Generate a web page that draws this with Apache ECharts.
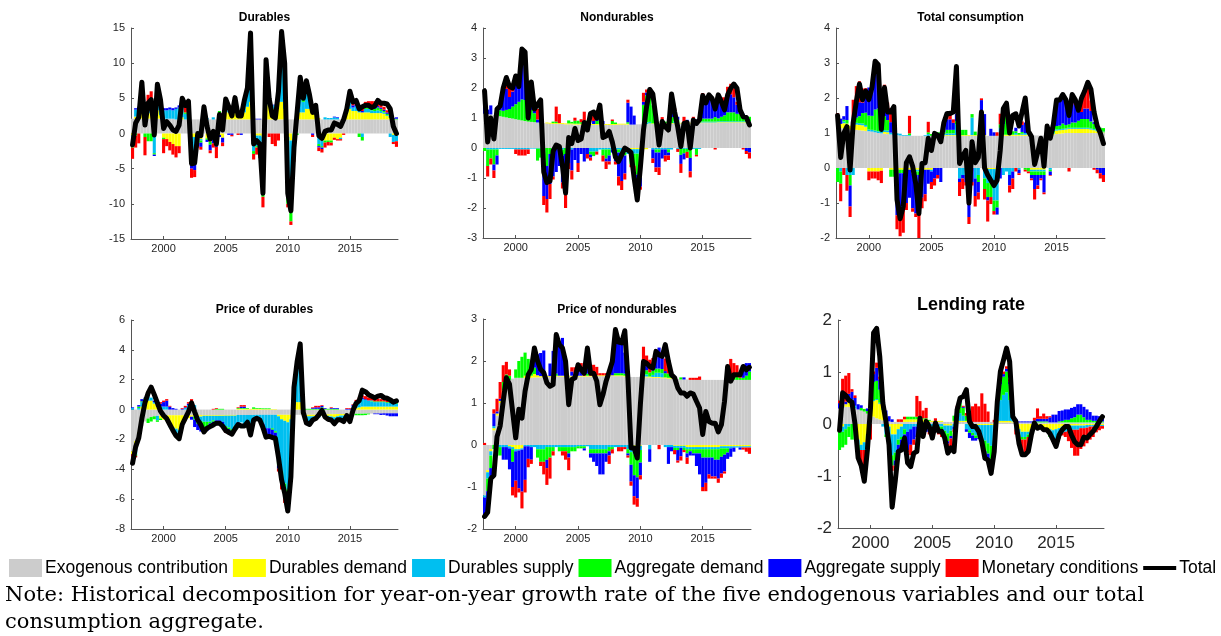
<!DOCTYPE html>
<html><head><meta charset="utf-8">
<script src="https://cdn.jsdelivr.net/npm/echarts@6/dist/echarts.min.js"></script>
<style>html,body{margin:0;padding:0;background:#fff}#c{width:1221px;height:636px}</style>
</head><body><div id="c"></div>
<script>
// ---------- categories / ticks ----------
const quarters = [];
for (let y = 1997; y <= 2018; y++) for (let q = 1; q <= 4; q++) { if (y === 1997 && q < 3) continue; quarters.push(y + 'Q' + q); }
const tickCats = ['2000Q1','2005Q1','2010Q1','2015Q1'];
const tickLabels = ['2000','2005','2010','2015'];
const seriesNames = ['Exogenous contribution','Durables demand','Durables supply','Aggregate demand','Aggregate supply','Monetary conditions'];
const totalName = 'Total';

// ---------- Durables ----------
const dur_exo = [2.1,2.1,2.1,2.1,2.1,2.1,2.1,2.1,2.1,2.1, 2.1,2.1,2.1,2.1,2.0,2.0,2.0,2.0,2.0,2.0, 2.0,2.0,2.0,2.0,2.0,2.0,2.0,2.0,2.0,2.0, 2.0,2.0,2.0,2.0,2.0,2.0,2.0,2.0,2.0,2.0, 2.0,2.0,2.0,2.0,2.0,2.0,2.0,2.0,2.0,2.0, 2.0,2.0,2.0,2.0,2.0,2.0,2.0,2.0,2.0,2.0, 2.0,2.0,2.0,2.0,2.0,2.0,2.0,2.0,2.0,2.0, 2.0,2.0,2.0,2.0,2.0,2.0,2.0,2.0,2.0,2.0, 2.0,2.0,2.0,2.0,2.0,2.0];
const dur_dd = [-0.3,0.3,0.5,1.0,0.8,0.8,0.8,0.5,1.2,0.5, -0.6,-0.8,-1.2,-1.5,-1.8,-1.8,0.3,0,0.4,-0.5, -0.5,-0.5,-0.8,0.4,-0.7,-1.2,-0.8,-0.8,-0.2,-0.6, 1.5,1.0,0.6,1.0,0.5,0.6,1.0,1.8,2.5,0.2, -0.3,-0.3,-0.5,2.5,2.0,1.5,1.5,2.5,2.5,1.5, -0.5,-1.0,0,0.3,1.0,1.0,1.5,1.5,1.2,1.5, 0.2,-1.0,-1.0,-1.0,-1.0,-0.6,-0.8,-0.6,0.2,1.0, 1.5,1.2,1.2,1.0,1.0,1.0,1.0,0.9,0.9,0.9, 0.9,0.8,0.5,0.2,-0.2,-0.3];
const dur_ds = [-1.5,1.0,0.8,2.5,1.2,0.8,0.6,-2.8,2.0,1.3, 1.2,1.2,1.3,1.2,1.5,1.7,1.5,0.8,1.0,-3.5, -3.7,-0.8,-0.2,0.4,0.2,0,0.3,-0.5,0.3,0.3, 1.2,0.8,0.3,2.0,0.2,0.1,1.5,2.5,9.0,-2.5, -1.5,-2.0,-7.5,5.5,1.5,0.5,0.5,2.5,8.0,6.0, -8.0,-9.5,-2.5,0.5,3.0,1.5,2.5,1.5,0.3,0.5, -1.5,-0.8,0.3,0.2,0.2,0.3,0.2,-0.2,0,0.3, 1.3,0.5,0.7,0.4,-0.5,0.5,0.5,0.4,0.3,0.4, 0.3,0.2,0.1,-0.5,-1.0,-0.8];
const dur_ad = [-0.2,-0.3,0.2,0.3,-0.5,-1.1,-1.1,-0.2,0.5,0.3, -0.2,0,0,0,0,0,0,0.2,0,-0.5, -0.2,-0.1,-0.3,0,-0.2,-0.4,0,0,0.9,0, 0.2,0,0,0.1,0,0,0,0.2,0.6,-0.4, -0.2,0,-1.0,0.5,0,0,0,0,1.5,0.5, -1.5,-2.0,-0.5,-0.2,1.5,0.5,1.5,0.5,0,0, -0.3,-0.2,-0.3,-0.2,-0.3,0,0,0,0,0, 0.3,0,0,-0.5,-0.5,0.2,0.2,0.3,0.3,0.4, 0.3,0.2,0.2,0.2,0.1,0.1];
const dur_as = [0,0.2,0.2,0.5,0.3,0.3,0.3,-0.2,0.8,0.5, 0.3,0.3,0.3,0.3,0.2,0.3,0.2,0,0,-0.5, -0.8,-0.4,-0.6,0,-0.3,-0.8,-0.6,-0.6,-0.3,-0.7, 0,-0.2,-0.2,0.1,0.1,-0.2,0.1,0.1,0.2,0, 0.1,0.1,0,0,0.1,0.1,0.1,0.1,0.5,0, 0,0,0,0,0.5,0,0,0,-0.2,0, -0.2,-0.2,0,0,0,0.1,0.1,0,0,0.2, 0.4,0.3,0.3,0.2,0.2,0.2,0.2,0.2,0.2,0.2, 0.2,0.2,0.2,0.1,0.1,0.2];
const dur_mc = [-1.6,-1.7,-1.4,1.0,-2.6,1.5,2.2,0.5,0.5,0.2, -2.0,-1.0,-1.2,-1.5,-1.6,-1.0,1.0,1.0,1.2,-1.3, -1.0,-0.2,-0.4,1.0,0,-0.4,-0.6,-1.6,0,-0.5, 0,0.2,-0.2,0,-0.2,0,0.2,0,0,-0.8, -1.0,-1.2,-1.5,0,-0.5,-1.5,-1.8,-1.0,0,0, -0.5,-0.5,-1.0,0.4,0,0,0,0,-0.3,0, -0.5,-0.5,-0.7,-0.5,-0.4,-0.3,-0.2,-0.2,-0.2,0, 0.5,0.5,0.5,0.4,0.5,0.6,0.7,0.8,0.9,0.8, 0.6,0.4,0.3,0,-0.3,-0.8];
const dur_tot = [-1.6,1.5,2.3,7.3,1.2,4.3,4.8,-0.2,7.0,4.8, 0.7,1.7,1.2,0.5,0.3,1.2,5.0,4.0,4.6,-4.3, -4.2,0.0,-0.3,3.8,1.0,-0.8,0.3,-1.5,2.7,0.5, 4.9,3.8,2.5,5.1,2.5,2.5,4.7,6.5,14.3,-1.5, -1.0,-1.5,-8.5,10.5,5.0,2.5,2.2,6.0,14.5,10.0, -8.5,-11.0,-2.0,3.0,8.0,5.0,7.5,5.5,3.0,4.0, -0.3,-0.7,0.3,0.5,0.5,1.5,1.3,1.0,2.0,3.5, 6.0,4.5,4.7,3.5,3.8,4.0,4.0,3.7,3.9,4.7, 4.3,4.3,4.2,3.5,1.0,0.0];

// ---------- Nondurables ----------
const nd_exo = [1.15,1.13,1.12,1.1,1.08,1.06,1.04,1.02,1.0,0.98, 0.96,0.94,0.92,0.9,0.88,0.87,0.86,0.85,0.84,0.83, 0.82,0.81,0.8,0.8,0.8,0.8,0.79,0.79,0.79,0.78, 0.78,0.78,0.78,0.78,0.77,0.77,0.77,0.77,0.77,0.77, 0.77,0.77,0.77,0.78,0.78,0.78,0.78,0.78,0.78,0.79, 0.79,0.79,0.8,0.8,0.8,0.8,0.8,0.81,0.81,0.81, 0.81,0.81,0.82,0.82,0.82,0.82,0.82,0.82,0.83,0.83, 0.83,0.83,0.83,0.83,0.83,0.84,0.84,0.84,0.84,0.84, 0.84,0.84,0.84,0.84,0.84,0.84];
const nd_dd = [0,0,0,0,0,0,0,0,0,0, 0,0,0,0,0,0,0,0,0,0, 0.03,0.03,0.03,0.03,0.03,0.03,0.03,0.03,0.03,0.03, 0.03,0.03,0.03,0.03,0.03,0.03,0.03,0.03,0.03,0.03, 0.03,0.03,0.03,0.03,0.03,0.03,0.03,-0.04,-0.04,-0.04, -0.04,-0.04,-0.04,0.02,0.02,0.02,0.02,0.02,0.02,0.02, 0.02,0.02,0.02,0.02,0.02,0.02,0.02,0.02,0.02,0.02, 0.02,0.02,0.02,0.02,0.02,0.02,0.02,0.02,0.02,0.02, 0.02,0.02,0.02,0.02,0.02,0.02];
const nd_ds = [0,-0.05,-0.05,-0.05,-0.05,-0.03,-0.03,-0.03,-0.03,-0.03, -0.05,-0.05,-0.05,-0.05,-0.05,-0.02,-0.02,-0.02,-0.02,0, 0,0,-0.05,0,0,-0.05,0,0,-0.05,0, 0,0,0,0,-0.12,-0.12,-0.12,-0.05,-0.05,-0.05, -0.05,-0.05,-0.05,-0.05,-0.15,-0.15,-0.2,-0.2,-0.15,-0.15, -0.15,0.05,0.05,0.05,-0.05,-0.05,-0.05,-0.05,-0.05,-0.05, -0.05,0.05,-0.03,-0.03,-0.03,-0.03,-0.03,-0.03,-0.03,-0.03, 0.03,0.03,0.03,0.03,0.03,0.03,0.03,0.03,0.03,0.03, 0.03,0.03,0.03,0.03,0.03,0.03];
const nd_ad = [-0.1,-0.55,-0.3,-0.5,-0.2,0.2,0.2,0.25,0.3,0.4, 0.5,0.6,0.7,0.7,0.5,0.4,0.3,-0.4,-0.3,-0.7, -0.6,-0.2,0.05,0.05,0,-0.2,-0.2,0.1,0.05,0.1, 0.1,0.05,0.1,0.1,-0.1,-0.15,0.1,0.15,-0.2,-0.3, -0.2,0.1,0.05,-0.1,-0.15,-0.1,0.05,-0.3,-0.4,-0.7, -0.8,0.6,0.9,1.0,0.6,-0.1,-0.1,0.1,0.05,-0.1, 0.2,0.15,0.1,-0.2,-0.15,-0.1,-0.3,0.05,-0.2,0.05, 0.1,0.1,0.1,0.1,0.15,0.1,0.15,0.2,0.3,0.3, 0.3,0.25,0.25,0.2,0.15,0.15];
const nd_as = [0.3,0.15,0.3,-0.2,-0.3,0.1,0.6,0.7,0.4,0.5, 0.7,0.6,1.6,1.5,0,0.6,0.2,0.1,0.2,-0.9, -1.1,-1.0,-0.9,-0.8,-0.6,-0.9,-1.3,-0.5,-0.7,-0.4, -0.5,-0.2,-0.45,-0.2,-0.1,0.1,0.2,0.2,0.1,-0.1, -0.2,-0.1,-0.4,-0.8,-0.8,-0.6,0.65,0.6,0.3,-0.6, -0.3,0.1,0.1,0,-0.3,-0.5,-0.5,-0.3,-0.2,-0.1, 0.3,0.2,0.1,-0.3,-0.2,0.1,-0.45,0.1,0.1,0.2, 0.8,0.6,0.7,0.6,0.45,0.7,0.55,0.4,0.5,0.6, 0.5,0.3,0.1,0.05,-0.1,-0.15];
const nd_mc = [0.45,-0.35,-0.2,-0.25,0.2,0.15,0.2,0.3,0.45,0.2, -0.15,-0.2,-0.2,-0.2,-0.15,0.2,0.15,0.35,0.5,-0.3, -0.45,-0.5,-0.1,0.5,0.3,-0.2,-0.5,-0.2,-0.3,0.1, -0.3,0.1,0.3,-0.15,-0.1,0.2,-0.1,0.1,-0.2,-0.25, -0.1,0.05,-0.1,-0.3,-0.3,-0.2,0.1,-0.1,-0.2,-0.2, -0.1,0.3,0.1,0.05,-0.15,-0.15,-0.25,0.1,-0.2,-0.15, 0.2,0.1,-0.1,-0.3,0.2,-0.2,-0.2,0.05,-0.05,0.05, 0.05,0.1,0.05,0.1,-0.05,0.1,0.1,0.2,0.35,0.35, 0.3,0.1,0.05,-0.05,-0.1,-0.2];
const nd_tot = [1.9,0.2,1.0,0.3,1.3,1.4,2.0,2.35,2.05,2.0, 2.4,2.05,3.3,3.2,1.0,2.2,1.3,1.45,1.6,-0.8, -1.15,-1.1,-0.1,0.1,0.05,-0.6,-1.5,0.35,0.15,0.65, 0.25,0.3,0.85,0.6,1.15,1.2,1.0,1.43,0.35,0.4, 0.55,0.2,-0.3,-0.45,-0.23,0.0,-0.07,-0.15,-1.0,-1.73, -0.65,0.6,1.38,1.95,1.8,1.0,0.1,0.88,0.71,0.6, 1.8,1.2,0.7,0.05,0.82,0.85,0.0,0.93,0.82,0.95, 1.75,1.5,1.77,1.65,1.3,1.77,1.54,1.27,1.77,1.99, 2.13,1.99,1.27,1.04,1.02,0.77];

// ---------- Total consumption ----------
const tc_exo = [1.15,1.14,1.13,1.12,1.11,1.1,1.09,1.08,1.07,1.06, 1.05,1.04,1.02,1.0,0.99,0.98,0.97,0.96,0.95,0.94, 0.93,0.92,0.92,0.92,0.92,0.92,0.92,0.92,0.92,0.92, 0.92,0.92,0.92,0.92,0.92,0.92,0.92,0.92,0.92,0.92, 0.92,0.92,0.92,0.92,0.92,0.92,0.92,0.92,0.92,0.92, 0.92,0.92,0.92,0.92,0.92,0.92,0.92,0.92,0.92,0.92, 0.92,0.93,0.93,0.93,0.93,0.93,0.93,0.93,0.93,0.95, 0.97,0.98,0.99,1.0,1.0,1.0,1.0,1.0,1.0,1.0, 1.0,1.0,1.0,1.0,1.0,1.0];
const tc_dd = [0.12,0.12,0.15,0.15,0.1,0.15,0.15,0.15,0.15,0.12, -0.1,-0.1,-0.1,-0.1,-0.08,0.05,0.05,-0.05,-0.05,-0.05, -0.05,-0.05,-0.05,-0.05,-0.05,-0.05,-0.05,-0.05,-0.05,-0.05, -0.05,0.02,0.02,0.02,0.02,0.02,0.02,0.02,0.02,0.02, 0.02,0.02,0.02,0.02,0.02,0.02,0.02,0.02,-0.03,-0.03, -0.03,-0.03,0.03,0.03,0.03,0.03,0.03,0.03,0.03,0.03, 0.03,0.03,-0.05,-0.05,-0.05,-0.05,-0.05,0.03,0.03,0.03, 0.1,0.1,0.1,0.1,0.12,0.12,0.12,0.12,0.12,0.12, 0.12,0.1,0.08,0.05,0.03,0.02];
const tc_ds = [0.05,-0.1,0.05,-0.2,-0.2,-0.2,0.05,0.05,0.05,0.05, 0.05,0.05,0.05,0.05,0.05,0.05,0.05,0.05,0.05,0.05, 0.05,0.02,0.02,0.02,-0.05,-0.05,-0.05,-0.05,0.02,0.05, -0.05,0.05,0.03,0.03,0.03,0.05,0.05,0.05,0.3,-0.3, -0.2,-0.2,-0.5,0.5,-0.3,-0.2,0.3,-0.3,-0.4,-0.3, -0.9,-0.9,0.2,-0.2,-0.1,-0.2,-0.1,0.05,-0.05,0.03, 0.05,0.05,-0.05,-0.05,-0.05,-0.05,-0.05,0.03,-0.05,0.03, 0.03,0.03,0.03,0.03,0.03,0.03,0.03,0.03,0.03,0.03, 0.03,0.03,0.03,0.03,0.02,0.02];
const tc_ad = [-0.4,-0.35,0.05,0.1,-0.3,0.1,0.15,0.2,0.3,0.35, 0.4,0.4,0.6,0.65,0.45,0.4,0.3,-0.2,-0.2,-0.2, -0.1,-0.1,-0.05,0.05,-0.05,-0.1,-0.1,-0.05,0,0.05, 0.05,0.05,0.05,0.05,0.05,0.1,0.1,0.1,0.1,0.15, 0.15,0.15,-0.1,0.1,0.1,-0.2,0.1,-0.3,-0.4,-0.5, -0.3,-0.2,0.1,0.3,0.7,0.3,0.1,0.05,0.05,0.05, -0.05,-0.1,-0.1,-0.1,-0.1,-0.1,-0.1,0.05,-0.05,0.05, 0.1,0.1,0.15,0.1,0.1,0.15,0.15,0.2,0.25,0.25, 0.25,0.2,0.15,0.1,0.1,0.1];
const tc_as = [0.15,0.15,0.1,0.4,-0.6,0.1,0.3,0.4,0.3,0.5, 0.8,0.9,1.4,1.3,0.05,0.8,0.3,0.3,0.4,-1.1, -1.2,-1.0,-0.9,-0.8,-1.0,-1.1,-1.0,-0.7,-0.7,-0.4, -0.3,-0.3,-0.2,-0.4,0.2,0.3,0.3,0.2,0.2,-0.1, -0.1,-0.2,-0.8,-0.4,-0.5,-0.3,0.6,0.6,-0.1,0.2, 0.1,-0.2,-0.3,0.1,0.1,-0.3,-0.2,0.1,-0.1,0.2, 0.3,0.3,-0.1,-0.4,-0.3,-0.1,-0.5,0.1,-0.1,0.1, 0.7,0.7,0.7,0.6,0.4,0.6,0.5,0.3,0.2,0.3, 0.3,0.3,0.05,-0.05,-0.15,-0.2];
const tc_mc = [0.1,-0.5,-0.2,-0.45,-0.3,0.5,0.6,0.6,0.4,0.2, -0.25,-0.2,-0.2,-0.25,-0.35,0.1,0.2,0.4,0.3,-0.4, -0.6,-0.7,-0.2,0.5,-0.1,-0.1,-1.0,-0.3,-0.2,0.3, -0.2,-0.2,-0.1,0,0.1,0.1,0.2,0.1,0,-0.4, -0.3,-0.1,-0.2,-0.1,-0.3,-0.2,0.05,-0.3,-0.6,-0.2, -0.1,0.1,0.3,0.3,0.1,-0.2,-0.3,-0.1,-0.05,0.1, -0.05,-0.05,-0.05,-0.3,-0.1,-0.05,-0.05,0.1,-0.02,0.02, 0.05,0.05,0.15,0.05,-0.1,0.1,0.1,0.15,0.4,0.5, 0.6,0.3,-0.05,-0.1,-0.15,-0.2];
const tc_tot = [1.5,0.3,1.0,1.18,-0.06,1.3,1.9,2.4,1.95,2.2, 1.95,2.3,3.05,2.95,1.1,2.3,1.6,1.6,1.75,-0.9, -1.45,-1.1,0.15,0.32,0.05,-0.45,-1.3,0.13,0.15,0.85, 0.5,0.99,0.94,0.75,1.3,1.56,1.56,1.6,2.9,0.13, 0.35,0.5,-1.0,0.75,0.15,0.3,1.6,0.0,-0.2,-0.35, -0.5,-0.35,0.5,1.7,1.85,1.0,1.5,1.55,1.2,1.6, 2.0,1.05,0.9,0.1,0.45,0.85,0.05,1.2,0.85,1.25, 1.94,1.94,2.1,1.95,1.5,2.1,1.95,1.65,2.0,2.2, 2.45,2.25,1.6,1.2,1.0,0.7];

// ---------- Price of durables ----------
const pd_exo = [-2.8,-2.1,-1.5,-1.1,-0.8,-0.6,-0.5,-0.45,-0.42,-0.4, -0.38,-0.38,-0.38,-0.38,-0.38,-0.38,-0.38,-0.38,-0.38,-0.38, -0.37,-0.37,-0.37,-0.37,-0.37,-0.37,-0.37,-0.37,-0.37,-0.37, -0.36,-0.36,-0.36,-0.36,-0.36,-0.36,-0.36,-0.36,-0.36,-0.36, -0.35,-0.35,-0.35,-0.35,-0.35,-0.35,-0.35,-0.35,-0.35,-0.35, -0.35,-0.35,-0.35,-0.35,-0.35,-0.35,-0.35,-0.35,-0.35,-0.35, -0.33,-0.33,-0.32,-0.32,-0.31,-0.31,-0.3,-0.3,-0.3,-0.3, -0.29,-0.29,-0.28,-0.28,-0.28,-0.27,-0.27,-0.27,-0.26,-0.26, -0.26,-0.25,-0.25,-0.25,-0.25,-0.25];
const pd_dd = [-0.2,-0.4,-0.3,0.2,0.5,0.6,0.6,0.4,0.2,-0.2, -0.3,-0.4,-0.6,-0.8,-0.9,-1.0,-0.6,-0.4,-0.2,-0.1, -0.1,-0.1,-0.1,-0.05,-0.05,-0.05,-0.05,-0.05,-0.05,-0.05, -0.05,-0.05,-0.05,-0.05,0.05,0.05,0.05,0.05,0.05,0.05, 0.05,0.05,0.03,0.03,0.03,0.03,0.03,-0.1,-0.3,-0.4, -0.5,-0.3,0.3,0.5,0.5,0.4,-0.1,-0.1,-0.1,-0.1, -0.1,-0.05,-0.1,-0.1,-0.15,-0.2,-0.15,-0.1,-0.1,-0.05, -0.05,0.05,0.1,0.15,0.2,0.2,0.2,0.2,0.2,0.2, 0.2,0.2,0.2,0.2,0.2,0.2];
const pd_ds = [0.1,-0.5,0.1,0.3,0.2,0.3,0.2,0.1,-0.3,0.2, 0.2,0.2,-0.2,-0.3,-0.4,-0.5,-0.1,0.1,0.3,0.5, 0.3,-0.2,-0.3,-0.4,-0.4,-0.4,-0.3,-0.3,-0.3,-0.4, -0.7,-0.8,-0.9,-0.7,-0.5,-0.5,-0.6,-0.5,-1.3,-0.3, -0.3,-0.4,-0.6,-0.9,-0.9,-0.9,-1.1,-3.0,-3.5,-4.2, -4.5,-2.5,1.2,2.5,3.3,0.5,-0.3,-0.4,-0.2,-0.1, -0.1,0.1,-0.1,-0.2,-0.2,-0.3,-0.2,-0.2,-0.3,-0.1, -0.3,0.15,0.3,0.4,0.5,0.45,0.4,0.35,0.3,0.3, 0.3,0.3,0.25,0.25,0.2,0.2];
const pd_ad = [0,-0.1,0.1,0.05,0.05,-0.3,-0.3,-0.2,-0.1,-0.1, 0,0,0,0,0,0,0,0,0,0, -0.2,-0.3,-0.3,-0.4,-0.3,-0.1,-0.1,0.05,0.05,0.05, -0.1,-0.1,-0.15,-0.05,0.05,0.05,0.05,0.05,-0.1,0.1, 0.05,0.05,0.05,0.05,0.05,-0.1,-0.1,-0.3,-0.5,-0.7, -0.8,-0.3,0.2,0.3,0.3,0.05,0.05,0.05,0.05,0.05, 0.05,0.05,0.05,0.05,0.05,0.05,0.05,-0.05,-0.1,-0.05, -0.1,0,-0.1,-0.1,-0.1,-0.1,-0.05,0.05,0.05,0.05, 0.05,0.05,0.05,0.05,0.05,0.05];
const pd_as = [0.05,0,0.1,0.15,0.05,0.1,0,0.1,0.2,0.2, 0.3,0.4,0.2,0.1,0.05,0,0.05,0.05,0.1,-0.2, -0.5,-0.4,-0.4,-0.3,-0.3,-0.3,-0.3,-0.25,-0.3,-0.3, -0.3,-0.3,-0.2,-0.2,-0.1,0.1,0.1,-0.05,-0.05,-0.05, 0,-0.05,-0.3,-0.4,-0.4,-0.4,-0.3,-0.2,-0.2,-0.1, -0.1,0,0,0,0,0,-0.1,-0.05,0.05,0.1, 0.1,0.1,0.05,0,0.05,0.05,0.05,0,0,0.05, 0.05,0.1,0.15,0.1,0.1,0.05,0.02,0.02,-0.05,-0.05, -0.1,-0.1,-0.15,-0.2,-0.2,-0.2];
const pd_mc = [-0.15,-0.1,-0.1,0,0,0,0,0,0.05,0.1, 0.1,0.1,0.05,0,0,0,0.05,0.1,0.1,0.2, 0,0,0,-0.05,0,0,0.05,0.05,0,0, -0.05,-0.05,-0.05,0,0.05,0.1,0.1,0,0,0, 0,0,-0.05,-0.1,-0.1,-0.15,-0.1,-0.2,-0.5,-0.5, -0.3,-0.1,0,0,0,0,-0.1,-0.05,0.05,0.1, 0.1,0.05,0,0,0.05,0,0,0,0,0.05, 0.05,0.05,0.1,0.15,0.15,0.2,0.2,0.2,0.2,0.2, 0.15,0.15,0.15,0.1,0.1,0.15];
const pd_tot = [-3.6,-2.5,-1.9,-0.6,0.45,1.1,1.5,1.0,0.45,-0.1, -0.4,-0.6,-1.0,-1.4,-1.75,-1.95,-1.0,-0.58,-0.15,0.45, -0.15,-0.7,-1.03,-1.5,-1.25,-1.14,-1.03,-0.91,-0.91,-1.1, -1.4,-1.52,-1.65,-1.3,-1.0,-1.1,-1.1,-0.85,-1.7,-0.7, -0.58,-0.69,-1.2,-1.85,-1.8,-1.87,-1.92,-3.2,-4.7,-5.6, -6.8,-4.5,1.5,3.2,4.4,-0.2,-0.9,-1.0,-0.7,-0.6, -0.35,-0.05,-0.5,-0.65,-0.7,-0.95,-0.69,-0.69,-0.8,-0.4, -0.8,-0.05,0.42,0.6,1.3,1.2,1.0,0.9,0.78,0.9, 0.95,0.8,0.76,0.65,0.5,0.58];

// ---------- Price of nondurables ----------
const pn_exo = [-1.2,-0.6,-0.1,0.35,0.7,1.0,1.25,1.45,1.55,1.58, 1.6,1.6,1.6,1.6,1.6,1.6,1.61,1.61,1.61,1.62, 1.62,1.62,1.62,1.63,1.63,1.63,1.63,1.63,1.63,1.63, 1.63,1.63,1.63,1.63,1.63,1.64,1.64,1.64,1.64,1.64, 1.64,1.64,1.64,1.64,1.64,1.63,1.63,1.62,1.62,1.62, 1.62,1.62,1.61,1.61,1.6,1.6,1.6,1.59,1.59,1.58, 1.58,1.57,1.57,1.56,1.56,1.56,1.55,1.55,1.55,1.55, 1.55,1.55,1.55,1.55,1.55,1.55,1.55,1.55,1.55,1.55, 1.55,1.55,1.55,1.55,1.55,1.55];
const pn_dd = [0,-0.05,-0.05,0.05,0.05,0.05,0.05,0.03,-0.03,-0.05, -0.1,-0.1,-0.08,0.05,0.05,0.05,0.08,0.05,0.03,0.03, 0.03,0.02,0.02,0.02,0.02,0.02,0.02,0.02,0.02,0.02, 0.02,0.02,0.02,0.02,0.02,0.02,0.02,0.02,0.02,0.02, 0.02,0.02,0.02,0.02,0.02,0.02,0.02,-0.02,-0.02,-0.02, -0.02,0.02,0.02,0.02,0.02,0.02,0.02,0.02,0.02,0.02, 0.02,-0.02,-0.02,-0.02,-0.02,-0.05,-0.05,-0.05,-0.05,-0.05, -0.05,-0.05,-0.05,-0.05,-0.05,-0.05,-0.03,-0.03,-0.03,-0.03, -0.03,-0.03,-0.03,-0.03,-0.03,-0.03];
const pn_ds = [-0.05,-0.15,-0.1,0.05,-0.05,-0.05,-0.05,-0.05,-0.05,-0.05, -0.05,-0.03,-0.03,-0.03,-0.03,-0.05,-0.05,-0.1,-0.1,-0.1, -0.05,-0.05,-0.05,-0.05,-0.05,-0.05,-0.05,-0.05,-0.05,-0.05, -0.03,-0.03,-0.03,-0.03,-0.1,-0.1,-0.1,-0.1,-0.1,-0.1, -0.05,-0.05,-0.05,-0.05,-0.05,-0.05,-0.1,-0.15,-0.2,-0.15, -0.1,0.05,0.05,-0.1,0.05,0.1,0.1,0.1,-0.05,-0.05, -0.05,-0.05,-0.05,-0.05,-0.05,-0.05,-0.05,-0.05,-0.05,-0.05, -0.05,-0.05,-0.05,-0.05,-0.05,-0.05,-0.05,-0.05,-0.05,-0.05, -0.03,-0.03,-0.03,-0.03,-0.03,-0.03];
const pn_ad = [0,-0.3,-0.3,-0.1,-0.2,-0.2,0.2,0.2,0.1,-0.3, 0.2,0.4,0.5,0.55,0.4,0.2,0.15,-0.2,-0.3,-0.3, -0.3,-0.25,-0.1,0.05,-0.1,-0.1,-0.1,-0.15,-0.1,-0.1, -0.05,-0.05,-0.05,0.05,-0.1,-0.1,-0.1,-0.1,-0.1,-0.1, -0.1,-0.05,0.05,0.05,0.05,0.05,-0.1,-0.3,-0.5,-0.6, -0.3,0.1,0.1,0.1,0.1,0.1,0.1,0.1,0.1,0.1, 0.05,-0.05,-0.05,0.05,-0.05,-0.1,-0.05,-0.1,-0.1,-0.1, -0.2,-0.2,-0.2,-0.2,-0.25,-0.25,-0.2,-0.15,-0.1,0.1, 0.1,0.1,0.05,0.05,0.1,0.2];
const pn_as = [-0.45,-0.3,-0.2,0.3,0.05,0.05,-0.3,-0.3,-0.5,-0.6, -0.7,-0.9,-1.0,-0.8,-0.3,-0.3,0.3,0.5,0.55,0.6, -0.2,0.3,0.6,0.6,0.7,0.9,0.3,-0.1,0.1,0.05, 0.2,0.1,-0.05,0.2,-0.1,-0.2,-0.3,-0.5,-0.5,-0.2, -0.1,0.3,0.7,0.8,0.8,0.5,-0.05,-0.4,-0.5,-0.5, -0.3,0.15,0.1,-0.3,0.1,0.4,0.5,0.3,0.05,-0.4, -0.1,0.05,-0.25,-0.2,0.05,-0.1,-0.1,-0.05,-0.3,-0.5, -0.7,-0.6,-0.4,-0.45,-0.4,-0.45,-0.4,-0.4,-0.15,-0.2, -0.1,0.05,-0.05,0.2,0.3,0.2];
const pn_mc = [0.05,0,-0.05,0.1,0.3,0.4,0.4,0.3,0.15,-0.2, -0.4,-0.1,-0.4,-0.3,-0.2,-0.1,0.05,0,-0.1,-0.3, -0.4,-0.5,-0.1,0.3,0.1,-0.1,-0.2,-0.3,0.1,0.15, 0.1,0.2,0.1,0.15,0.2,0.25,0.2,0.05,0.05,0.05, -0.2,-0.1,0.1,-0.1,-0.1,-0.05,-0.05,-0.1,-0.2,-0.2, -0.1,0.4,0.25,0.3,0.2,0.05,-0.1,0.1,0.3,0.3, 0.1,-0.1,-0.05,-0.1,-0.05,-0.15,0.05,0.05,0.05,0.08, -0.1,-0.2,-0.1,-0.05,-0.05,-0.1,-0.1,-0.05,0.25,0.4, 0.3,0.2,0.1,-0.05,-0.1,-0.15];
const pn_tot = [-1.7,-1.6,-0.8,-0.72,0.2,0.45,1.05,1.6,1.45,0.8, 0.17,0.85,0.64,1.28,1.67,1.8,2.31,2.0,1.8,1.72, 1.48,1.4,1.44,2.63,2.39,2.31,1.99,0.96,1.56,1.6, 1.91,1.79,1.71,2.31,1.71,1.71,1.52,0.96,1.2,1.52, 1.75,1.99,2.75,2.45,2.43,2.72,1.6,-0.07,-0.07,-0.31, 0.96,1.99,1.95,1.87,1.83,2.23,2.15,2.11,2.39,1.99, 1.67,1.6,1.36,1.24,1.24,1.16,1.24,1.21,1.04,0.88, 0.25,0.8,0.56,0.52,0.52,0.31,0.48,1.04,1.87,1.52, 1.67,1.67,1.67,1.87,1.79,1.85];

// ---------- Lending rate ----------
const lr_exo = [0.3,0.32,0.33,0.33,0.32,0.3,0.28,0.26,0.24,0.2, 0.17,0.14,0.11,0.09,0.07,0.06,0.05,0.04,0.04,0.04, 0.04,0.04,0.04,0.04,0.04,0.04,0.04,0.04,0.04,0.04, 0.04,0.04,0.04,0.04,0.04,0.04,0.04,0.04,0.04,0.04, 0.04,0.04,0.04,0.04,0.04,0.04,0.04,0.04,0.04,0.04, 0.03,0.03,0.03,0.03,0.03,0.03,0.03,0.03,0.03,0.03, 0.03,0.03,0.03,0.03,0.03,0.03,0.03,0.03,0.03,0.03, 0.03,0.03,0.03,0.03,0.03,0.03,0.03,0.03,0.03,0.03, 0.03,0.03,0.03,0.03,0.03,0.03];
const lr_dd = [-0.05,-0.05,0.05,0.1,0.1,-0.1,-0.3,-0.4,-0.35,-0.2, 0.15,0.3,0.35,0.3,0.2,0.1,-0.05,-0.2,-0.2,-0.1, -0.05,0.05,0.05,0.05,0.05,0.05,0.05,0.05,0.05,0.02, 0.02,0.02,0.02,0.02,-0.03,-0.03,-0.03,0.02,0.02,0.02, 0.02,0.02,-0.02,-0.02,-0.02,-0.02,-0.02,-0.02,-0.02,-0.02, -0.02,0.02,0.03,0.03,0.03,0.03,0.02,-0.05,-0.1,-0.15, -0.15,-0.15,-0.1,-0.05,-0.05,-0.05,-0.08,-0.1,-0.1,-0.12, -0.1,-0.08,-0.05,-0.05,-0.03,-0.03,-0.03,-0.03,-0.03,-0.03, -0.02,-0.02,-0.02,-0.02,-0.02,-0.02];
const lr_ds = [-0.05,-0.1,-0.1,-0.05,0.05,0.05,-0.1,-0.1,-0.15,-0.1, 0.02,0.02,0.02,0.02,-0.05,-0.2,-0.3,-0.4,-0.35,-0.2, -0.2,-0.1,-0.15,-0.1,-0.05,-0.05,-0.05,-0.05,-0.05,-0.05, -0.05,-0.05,-0.05,-0.05,-0.1,-0.15,-0.1,-0.05,0.1,0.15, 0.1,-0.1,-0.1,-0.15,-0.2,-0.2,-0.25,-0.3,-0.35,-0.4, -0.3,0.15,0.4,0.5,0.55,0.4,0.1,-0.05,-0.1,-0.1, -0.1,-0.05,-0.05,-0.02,-0.02,-0.02,-0.05,-0.05,-0.1,-0.15, -0.2,-0.15,-0.12,-0.1,-0.1,-0.08,-0.08,-0.08,-0.05,-0.05, -0.05,-0.03,-0.03,-0.02,-0.02,-0.02];
const lr_ad = [-0.4,-0.3,-0.3,-0.2,-0.3,-0.2,-0.1,0.05,0.05,0.05, 0.2,0.35,0.35,0.25,0.05,-0.05,-0.1,-0.2,-0.15,-0.1, -0.05,-0.1,0.05,0.05,0.05,0.05,0.05,0.02,0.02,0.02, -0.05,-0.05,-0.05,-0.05,-0.1,-0.15,-0.1,0.1,0.15,0.2, 0.15,0.1,-0.05,-0.05,-0.05,-0.05,-0.05,-0.2,-0.2,-0.3, -0.2,0.15,0.3,0.35,0.4,0.3,0.05,0.05,-0.05,-0.05, -0.05,-0.05,-0.02,0.02,0.02,0.02,0.02,0.02,-0.05,-0.05, -0.05,0.02,0.03,0.05,0.05,0.08,0.1,0.15,0.15,0.1, 0.05,0.05,0.03,0.03,0.02,0.02];
const lr_as = [0.1,0.05,0.05,0.15,0.15,0.15,0.1,0.05,0,0.05, 0.1,0.15,0.25,0.2,0.1,0.1,0.1,0.05,-0.1,-0.2, -0.2,-0.3,-0.35,-0.3,-0.25,-0.2,-0.1,-0.15,-0.1,-0.1, -0.1,-0.05,-0.05,-0.05,-0.05,-0.05,-0.05,-0.05,0.02,0.05, 0.02,-0.05,-0.1,-0.1,-0.05,-0.02,-0.02,-0.1,-0.15,-0.2, -0.1,0.05,0.05,0.05,0.05,0.05,0.02,0.02,0.02,0.02, 0.02,0.02,0.02,0.02,0.05,0.05,0.05,0.05,0.1,0.15, 0.15,0.2,0.2,0.2,0.2,0.2,0.2,0.2,0.2,0.2, 0.2,0.15,0.1,0.1,0.1,0.08];
const lr_mc = [0.05,0.5,0.5,0.4,0.05,0.05,-0.1,-0.3,-0.6,-0.25, -0.3,0.05,0.1,0.05,0.02,0,-0.05,-0.1,-0.05,0.05, 0.05,0.05,-0.05,-0.2,-0.1,0.4,0.3,0.15,0.2,-0.05, -0.1,0.05,-0.05,-0.1,-0.1,-0.15,-0.15,-0.05,0.02,0.02, 0.02,0.05,0.1,0.3,0.35,0.3,0.55,0.35,0.2,0, 0.05,0.05,0.05,0.05,0.05,0.05,0.05,-0.1,-0.15,-0.3, -0.3,-0.25,-0.05,0.05,0.2,0.05,0.1,0.05,0.02,-0.02, -0.05,-0.05,-0.05,-0.1,-0.2,-0.35,-0.5,-0.5,-0.4,-0.35, -0.3,-0.25,-0.2,-0.12,-0.08,-0.05];
const lr_tot = [-0.12,0.6,0.55,0.46,0.42,0.0,-0.65,-0.8,-1.1,-0.5, 0.3,1.75,1.84,1.3,0.4,0.05,-0.4,-1.6,-1.1,-0.53, -0.5,-0.27,-0.75,-0.82,-0.56,-0.53,0.11,-0.24,0.05,-0.05, -0.27,0.02,-0.14,-0.14,-0.27,-0.56,-0.46,-0.53,0.27,0.5, 0.53,0.66,0.05,-0.05,-0.05,-0.14,-0.34,-0.66,-0.69,-0.95, -0.53,0.43,1.01,1.23,1.46,1.2,0.14,0.05,-0.37,-0.59, -0.59,-0.53,-0.21,0.02,-0.08,-0.05,-0.11,-0.11,-0.18,-0.3, -0.43,-0.21,-0.11,-0.05,-0.05,-0.21,-0.34,-0.4,-0.4,-0.25, -0.27,-0.2,-0.14,-0.05,0.05,0.14];

// ---------- layout & style (kept separate from data) ----------
const colors = ['#cccccc','#ffff00','#00bff0','#00ff00','#0000ff','#ff0000'];
const axisColor = '#555555';
const labelColor = '#262626';
const FONT = 'Liberation Sans, Arial, sans-serif';

const panels = [
  {title:'Durables', comps:[dur_exo,dur_dd,dur_ds,dur_ad,dur_as,dur_mc], total:dur_tot, min:-15, max:15, step:5,
   grid:{left:131, top:28, width:267, height:211}, tx:264.5, ty:12, tsize:12, lsize:11},
  {title:'Nondurables', comps:[nd_exo,nd_dd,nd_ds,nd_ad,nd_as,nd_mc], total:nd_tot, min:-3, max:4, step:1,
   grid:{left:483, top:28, width:268, height:210}, tx:617, ty:12, tsize:12, lsize:11},
  {title:'Total consumption', comps:[tc_exo,tc_dd,tc_ds,tc_ad,tc_as,tc_mc], total:tc_tot, min:-2, max:4, step:1,
   grid:{left:836, top:28, width:269, height:210}, tx:970.5, ty:12, tsize:12, lsize:11},
  {title:'Price of durables', comps:[pd_exo,pd_dd,pd_ds,pd_ad,pd_as,pd_mc], total:pd_tot, min:-8, max:6, step:2,
   grid:{left:131, top:320, width:267, height:209}, tx:264.5, ty:304, tsize:12, lsize:11},
  {title:'Price of nondurables', comps:[pn_exo,pn_dd,pn_ds,pn_ad,pn_as,pn_mc], total:pn_tot, min:-2, max:3, step:1,
   grid:{left:483, top:319, width:268, height:210}, tx:617, ty:304, tsize:12, lsize:11},
  {title:'Lending rate', comps:[lr_exo,lr_dd,lr_ds,lr_ad,lr_as,lr_mc], total:lr_tot, min:-2, max:2, step:1,
   grid:{left:838, top:320, width:266, height:208}, tx:971, ty:296, tsize:18, lsize:17}
];

const isTick = (idx) => tickCats.indexOf(quarters[idx]) >= 0;
const option = {
  animation: false,
  backgroundColor: '#ffffff',
  title: panels.map(p => ({
    text: p.title, left: p.tx, top: p.ty, textAlign: 'center', padding: 0,
    textStyle: {fontFamily: FONT, fontSize: p.tsize, fontWeight: 'bold', color: '#000'}
  })),
  grid: panels.map(p => Object.assign({containLabel: false}, p.grid)),
  xAxis: panels.map((p, i) => ({
    gridIndex: i, type: 'category', data: quarters, boundaryGap: true,
    axisLine: {show: true, onZero: false, lineStyle: {color: axisColor, width: 1}},
    axisTick: {show: true, inside: true, length: 3, alignWithLabel: true, interval: (idx) => isTick(idx), lineStyle: {color: axisColor}},
    axisLabel: {interval: (idx) => isTick(idx), formatter: (v) => tickLabels[tickCats.indexOf(v)] || '',
      fontFamily: FONT, fontSize: p.lsize, color: labelColor, margin: p.lsize > 12 ? 7 : 4},
    splitLine: {show: false}
  })),
  yAxis: panels.map((p, i) => ({
    gridIndex: i, type: 'value', min: p.min, max: p.max, interval: p.step,
    axisLine: {show: true, lineStyle: {color: axisColor, width: 1}},
    axisTick: {show: true, inside: true, length: 3, lineStyle: {color: axisColor}},
    axisLabel: {fontFamily: FONT, fontSize: p.lsize, color: labelColor, margin: 6},
    splitLine: {show: false}
  })),
  legend: {
    left: 9, top: 559, padding: 0, itemWidth: 33, itemHeight: 18, itemGap: 5, selectedMode: false,
    textStyle: {fontFamily: FONT, fontSize: 17.5, color: '#000', padding: [0, 0, 0, -2]},
    data: seriesNames.map(n => ({name: n, icon: 'rect'})).concat([{name: totalName, icon: 'path://M0,0H33V4H0Z'}])
  },
  graphic: [
    {type: 'text', left: 5, top: 585, silent: true,
     style: {text: 'Note: Historical decomposition for year-on-year growth rate of the five endogenous variables and our total',
             font: '21px "DejaVu Serif", serif', fill: '#000'}},
    {type: 'text', left: 5, top: 612, silent: true,
     style: {text: 'consumption aggregate.', font: '21px "DejaVu Serif", serif', fill: '#000'}}
  ],
  series: []
};

panels.forEach((p, i) => {
  p.comps.forEach((arr, k) => {
    option.series.push({
      name: seriesNames[k], type: 'bar', stack: 'panel' + i, xAxisIndex: i, yAxisIndex: i,
      data: arr, barCategoryGap: '0%', silent: true,
      itemStyle: {color: colors[k]}, z: 2
    });
  });
  option.series.push({
    name: totalName, type: 'line', xAxisIndex: i, yAxisIndex: i, data: p.total,
    symbol: 'none', silent: true, color: '#000', itemStyle: {color: '#000'},
    lineStyle: {color: '#000', width: 5, join: 'round', cap: 'round'}, z: 5
  });
});

const chart = echarts.init(document.getElementById('c'), null, {renderer: 'canvas'});
chart.setOption(option);
</script>
</body></html>
